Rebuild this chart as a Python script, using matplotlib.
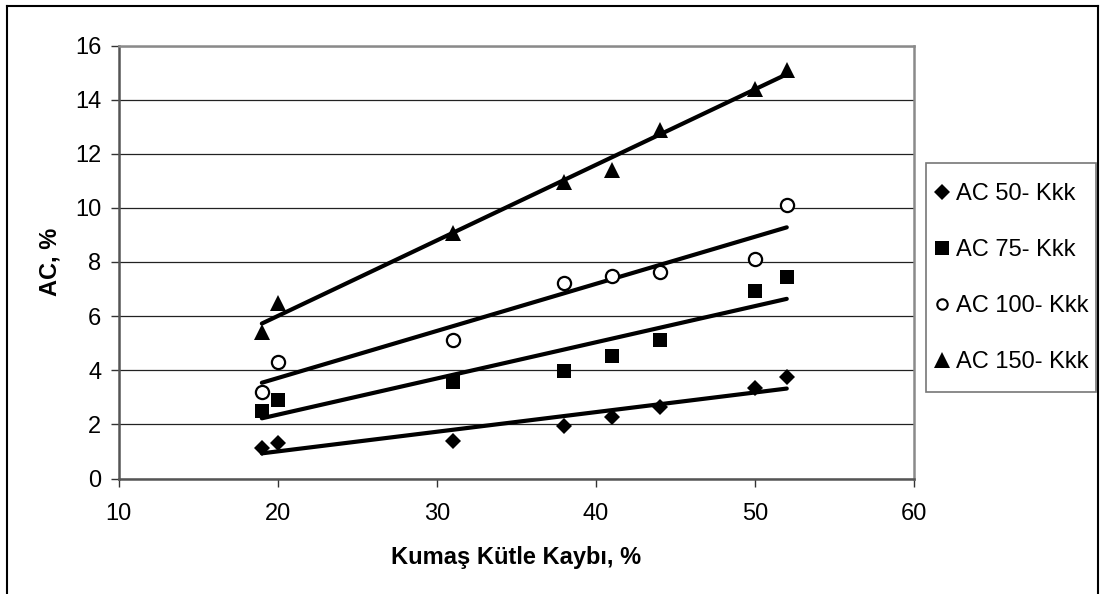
import numpy as np
import matplotlib
matplotlib.use("Agg")
import matplotlib.pyplot as plt
from matplotlib.lines import Line2D
from matplotlib.patches import Rectangle

plt.rcParams['font.family'] = ['Liberation Sans', 'DejaVu Sans']

# Fabric mass loss (%) and AC values for each series
mass_loss = [19, 20, 31, 38, 41, 44, 50, 52]
ac_50 = [1.12, 1.32, 1.40, 1.94, 2.29, 2.66, 3.34, 3.74]
ac_75 = [2.50, 2.90, 3.55, 3.99, 4.51, 5.12, 6.91, 7.44]
ac_100 = [3.19, 4.30, 5.12, 7.24, 7.50, 7.63, 8.12, 10.09]
ac_150 = [5.40, 6.48, 9.09, 10.94, 11.41, 12.89, 14.41, 15.11]

series_labels = ["AC 50- Kkk", "AC 75- Kkk", "AC 100- Kkk", "AC 150- Kkk"]
x_ticks = [10, 20, 30, 40, 50, 60]
y_ticks = [0, 2, 4, 6, 8, 10, 12, 14, 16]

W, H, DPI = 1101, 594, 100
fig = plt.figure(figsize=(W / DPI, H / DPI), dpi=DPI)
ax = fig.add_axes([118.7 / W, 1 - 478.5 / H, (914 - 118.7) / W, (478.5 - 45.5) / H])

styles = [
    dict(marker='D', ms=8.6, mfc='black', mec='black', mew=0),
    dict(marker='s', ms=10.5, mfc='black', mec='black', mew=0),
    dict(marker='o', ms=9.5, mfc='white', mec='black', mew=1.6),
    dict(marker='^', ms=11.5, mfc='black', mec='black', mew=0),
]
legend_styles = [
    dict(marker='D', ms=8.0, mfc='black', mec='black', mew=0),
    dict(marker='s', ms=10.0, mfc='black', mec='black', mew=0),
    dict(marker='o', ms=7.5, mfc='white', mec='black', mew=1.5),
    dict(marker='^', ms=11.0, mfc='black', mec='black', mew=0),
]

x = np.array(mass_loss, dtype=float)
handles = []
for vals, st, lst, lab in zip([ac_50, ac_75, ac_100, ac_150], styles, legend_styles, series_labels):
    y = np.array(vals, dtype=float)
    # linear trend line over the data range
    k, b = np.polyfit(x, y, 1)
    xs = np.array([x.min(), x.max()])
    ax.plot(xs, k * xs + b, color='black', lw=3.0, solid_capstyle='round', zorder=3)
    ax.plot(x, y, ls='none', zorder=4, **st)
    handles.append(Line2D([], [], ls='none', label=lab, **lst))

ax.set_xlim(10, 60)
ax.set_ylim(0, 16)
ax.set_xticks(x_ticks)
ax.set_yticks(y_ticks)
ax.yaxis.grid(True, color='#222222', lw=0.9)
ax.set_axisbelow(True)

for side in ['top', 'right']:
    ax.spines[side].set_color('#8a8a8a')
    ax.spines[side].set_linewidth(1.8)
for side in ['left', 'bottom']:
    ax.spines[side].set_color('#555555')
    ax.spines[side].set_linewidth(1.8)

ax.tick_params(axis='both', direction='out', length=5.5, width=1.0, color='#333333',
               labelsize=17)
ax.tick_params(axis='y', pad=7)
ax.tick_params(axis='x', pad=12)

ax.set_xlabel("Kumaş Kütle Kaybı, %", fontsize=17, fontweight='bold', labelpad=15)
ax.set_ylabel("AC, %", fontsize=17, fontweight='bold', labelpad=10)

# legend entries, with a separately drawn box around them
leg = fig.legend(handles=handles, loc='upper left',
                 bbox_to_anchor=(935 / W, 1 - 183 / H), bbox_transform=fig.transFigure,
                 fontsize=17, frameon=False, handlelength=0.6,
                 handletextpad=0.3, labelspacing=1.44, borderpad=0,
                 borderaxespad=0)
fig.add_artist(Rectangle((926 / W, 1 - 392 / H), (1096 - 926) / W, (392 - 163) / H,
                         transform=fig.transFigure, fill=False,
                         edgecolor='#777777', lw=1.2))

# outer chart border (left, top, right)
border_kw = dict(color='black', lw=1.5, transform=fig.transFigure)
fig.add_artist(Line2D([7 / W, 7 / W], [0, 1 - 6 / H], **border_kw))
fig.add_artist(Line2D([7 / W, 1098 / W], [1 - 6 / H, 1 - 6 / H], **border_kw))
fig.add_artist(Line2D([1098 / W, 1098 / W], [1 - 6 / H, 0], **border_kw))

fig.savefig("out.png", dpi=DPI, facecolor='white')
